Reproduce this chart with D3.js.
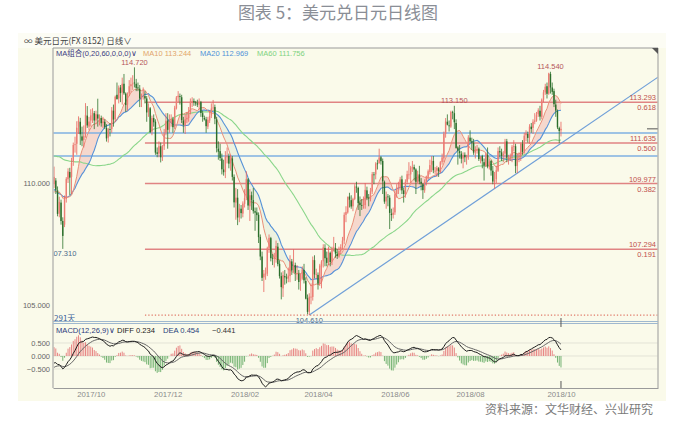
<!DOCTYPE html>
<html>
<head>
<meta charset="utf-8">
<script src="https://cdn.jsdelivr.net/npm/d3@7/dist/d3.min.js"></script>
<style>
html,body{margin:0;padding:0;background:#fff;}
svg{display:block;}
text{font-family:"Liberation Sans",Arial,sans-serif;}
.cjk{font-family:"Noto Sans CJK SC","Noto Sans",sans-serif;}
</style>
</head>
<body>
<svg id="chart" width="676" height="433"></svg>
<script>
// USD/JPY daily bars, 2017-09-01 .. 2018-10-12 (weekdays)
// closes of the preceding weeks, used only to seed the moving averages and MACD
const warmupClose = [
  111.39,110.40,110.40,109.52,109.79,109.97,110.32,110.02,109.98,109.59,110.90,110.88,111.52,111.43,111.36,111.28,111.29,111.86,112.35,112.33,112.22,112.39,
  113.47,113.27,113.21,113.25,113.89,114.04,113.91,113.25,113.27,112.55,112.63,112.03,111.97,111.93,111.11,111.11,111.90,111.33,111.26,110.68,110.27,
  110.39,110.72,109.99,110.69,110.70,110.32,110.05,109.20,109.18,109.67,110.63,110.01,109.59,109.19,108.96,109.52,108.96,109.51,109.35,109.21,110.07,110.28,109.99
];

const open = [
  109.95,110.10,109.70,108.75,109.20,108.45,108.30,109.35,110.15,110.45,110.25,110.85,111.55,111.60,112.30,112.50,111.90,111.75,111.95,112.75,112.30,
  112.55,112.75,112.85,112.55,112.80,112.60,112.65,112.45,112.50,112.25,111.85,112.20,112.20,112.95,112.60,113.60,113.45,113.90,113.70,114.05,113.65,113.20,
  113.65,113.95,114.05,114.10,114.05,113.90,113.85,113.45,113.55,113.55,113.45,112.90,113.05,112.10,112.65,112.50,111.25,111.20,111.50,111.05,111.50,112.05,
  112.55,112.20,112.45,112.60,112.30,113.05,113.50,113.55,113.50,112.55,112.35,112.60,112.65,112.90,113.30,113.35,113.30,113.25,113.20,113.30,112.85,
  112.65,112.60,112.30,112.55,112.75,113.05,113.10,112.60,111.40,111.30,111.00,110.55,110.45,111.05,111.10,110.80,111.00,110.25,109.20,109.40,108.60,108.95,108.75,
  109.15,109.40,110.15,109.05,109.50,109.30,108.85,108.80,108.70,107.80,107.00,106.15,106.30,106.30,107.35,107.75,106.95,106.90,106.95,107.40,
  106.70,106.20,105.70,106.20,106.15,106.10,106.20,106.80,106.45,106.65,106.30,106.30,106.00,106.10,106.45,106.00,105.30,104.75,105.35,105.35,106.85,106.25,
  106.25,105.90,106.60,106.80,107.35,106.95,106.75,107.15,106.80,107.35,107.35,107.10,107.00,107.20,107.40,107.65,108.70,108.80,109.45,109.30,109.05,
  109.35,109.85,109.80,109.20,109.10,109.10,109.10,109.70,109.40,109.35,109.65,110.35,110.35,110.80,110.80,111.05,110.90,110.05,109.25,109.45,109.40,108.75,108.70,
  108.80,109.55,109.80,109.80,110.15,109.70,109.55,110.05,110.35,110.35,110.60,110.65,110.55,110.05,110.35,110.05,109.95,109.70,110.00,110.25,110.45,
  110.75,110.90,110.50,110.50,110.60,110.45,110.85,111.00,112.00,112.50,112.35,112.30,112.90,112.85,112.45,111.45,111.30,111.20,111.00,111.15,111.05,111.05,
  111.85,111.70,111.65,111.25,111.35,111.40,110.95,111.10,110.85,110.70,111.15,110.65,110.90,110.50,110.05,110.15,110.50,111.30,111.25,111.10,111.20,111.70,111.00,
  111.05,111.10,111.50,111.50,110.70,111.05,111.10,111.60,111.30,111.95,112.00,111.85,112.30,112.25,112.50,112.55,112.80,112.95,112.70,113.40,
  113.70,113.95,113.65,114.45,113.90,113.75,113.20,112.95,112.25,112.15
];

const high = [
  110.67,110.20,109.86,109.44,109.32,108.60,109.49,110.24,110.60,110.62,111.03,111.65,111.89,112.52,112.72,112.66,112.30,112.35,113.26,113.14,112.70,
  113.01,113.05,112.94,112.95,113.44,112.80,112.75,112.70,112.60,112.40,112.25,112.45,113.10,113.20,113.57,114.10,113.98,114.00,114.30,114.45,113.70,113.70,
  114.20,114.30,114.40,114.72,114.25,114.10,114.00,113.65,113.90,113.75,113.55,113.25,113.10,112.75,112.80,112.60,111.45,111.70,111.65,111.55,112.20,112.85,
  112.85,112.80,112.80,112.70,113.15,113.55,113.75,113.65,113.60,112.70,112.80,112.90,113.10,113.45,113.50,113.45,113.35,113.40,113.45,113.35,112.95,
  112.75,112.70,112.70,112.95,113.25,113.39,113.20,112.70,111.70,111.60,111.20,110.95,111.30,111.45,111.20,111.15,111.10,110.35,109.80,109.75,109.15,109.10,109.25,
  109.75,110.48,110.20,109.75,109.65,109.80,109.00,109.00,108.80,107.90,107.20,106.45,106.55,107.40,107.90,107.80,107.10,107.15,107.65,107.55,
  106.85,106.35,106.40,106.45,106.30,106.55,107.05,106.90,107.30,106.75,106.65,106.45,106.30,106.60,106.70,106.15,105.45,105.50,105.90,107.00,107.05,106.50,
  106.35,106.70,106.85,107.50,107.50,107.20,107.40,107.20,107.40,107.80,107.55,107.30,107.40,107.50,107.80,108.80,109.05,109.45,109.60,109.50,109.40,
  109.95,110.05,109.85,109.45,109.35,109.45,110.00,109.85,109.55,109.80,110.45,110.45,110.85,110.95,111.40,111.10,111.00,110.10,109.65,109.55,109.50,108.95,109.00,
  109.70,109.95,110.05,110.25,110.30,109.80,110.15,110.50,110.85,110.70,110.90,110.75,110.60,110.50,110.70,110.20,110.00,110.15,110.30,110.55,110.95,
  111.10,111.10,110.65,110.70,110.65,110.90,111.20,112.10,112.65,112.80,112.55,112.95,112.95,113.15,112.60,111.50,111.55,111.30,111.25,111.25,111.15,111.95,
  112.15,111.85,111.80,111.50,111.55,111.45,111.10,111.15,111.00,111.25,111.45,111.00,110.95,110.70,110.45,110.70,111.45,111.50,111.40,111.30,111.80,111.80,111.15,
  111.20,111.55,111.75,111.60,111.20,111.25,111.65,111.75,112.05,112.15,112.10,112.40,112.45,112.60,112.85,112.90,113.05,113.15,113.45,113.80,
  114.05,114.10,114.50,114.54,114.10,113.85,113.40,113.00,112.30,112.50
];

const low = [
  109.80,109.55,108.64,108.60,108.30,107.31,108.20,109.20,110.00,109.50,109.55,110.70,111.24,111.15,112.00,111.55,111.50,111.45,111.85,112.25,112.15,
  112.30,112.45,112.20,112.40,112.30,112.35,112.30,112.25,112.20,111.69,111.65,111.90,112.05,112.30,112.50,113.40,113.25,113.30,113.20,113.60,112.90,112.95,
  113.55,113.70,113.80,113.90,113.75,113.75,113.10,113.10,113.40,113.25,112.50,112.70,112.05,111.95,112.30,111.15,111.05,111.05,110.84,110.90,111.35,111.95,
  111.40,112.05,112.30,112.05,112.20,113.00,113.30,113.20,112.45,112.05,112.00,112.45,112.50,112.80,113.10,113.15,113.15,113.10,113.00,112.70,112.50,
  112.55,112.05,112.20,112.45,112.65,112.95,112.40,111.25,110.95,110.90,110.35,110.30,110.20,110.80,110.60,110.50,110.10,109.00,108.50,108.28,108.40,108.55,108.60,
  109.00,109.30,108.90,108.45,108.90,108.75,108.05,108.45,107.55,106.85,106.00,105.55,106.05,106.20,107.15,106.80,106.65,106.55,106.75,106.60,
  106.10,105.25,105.35,105.85,105.90,105.95,105.95,106.25,106.35,106.00,106.05,105.65,105.60,106.05,105.90,105.25,104.64,104.61,105.05,105.20,106.10,106.10,
  105.65,105.80,105.70,106.55,106.60,106.60,106.65,106.60,106.65,107.20,106.95,106.90,106.95,107.10,107.30,107.50,108.40,108.75,109.00,108.95,108.85,
  109.30,109.60,108.90,108.65,108.90,108.95,108.95,109.30,109.05,109.25,109.55,109.95,110.15,110.55,110.80,110.75,109.55,109.15,108.95,109.05,108.12,108.45,108.55,
  108.70,109.40,109.55,109.70,109.55,109.20,109.40,109.95,110.15,110.00,110.45,110.10,109.55,110.00,109.95,109.70,109.35,109.60,109.90,110.15,110.35,
  110.45,110.40,110.35,110.25,110.25,110.40,110.75,110.85,111.85,112.35,112.10,112.25,112.60,112.20,111.40,110.75,111.00,110.80,110.60,110.85,110.75,110.95,
  111.65,111.35,111.15,111.00,111.20,110.90,110.80,110.60,110.10,110.65,110.60,110.55,110.30,109.95,109.77,110.00,110.45,111.05,110.90,110.85,111.00,110.85,110.75,
  110.90,110.85,111.30,110.40,110.40,110.85,110.90,111.15,111.20,111.70,111.65,111.60,112.05,112.00,112.40,112.50,112.70,112.55,112.60,113.30,
  113.60,113.45,113.60,113.65,113.60,113.10,112.70,112.20,111.63,111.90
];

const close = [
  110.25,109.72,108.74,109.23,108.45,107.84,109.35,110.17,110.47,110.22,110.82,111.55,111.58,112.26,112.54,111.99,111.73,111.93,112.78,112.35,112.51,
  112.76,112.86,112.55,112.81,112.63,112.67,112.44,112.51,112.29,111.82,112.20,112.19,112.96,112.59,113.52,113.43,113.89,113.67,114.05,113.66,113.18,113.64,
  113.95,114.03,114.06,114.08,113.88,113.87,113.45,113.53,113.56,113.45,112.88,113.08,112.07,112.65,112.48,111.24,111.19,111.50,111.05,111.49,112.02,112.54,
  112.17,112.47,112.62,112.28,113.07,113.49,113.56,113.52,112.57,112.37,112.60,112.66,112.88,113.32,113.35,113.29,113.25,113.20,113.31,112.86,112.69,
  112.60,112.32,112.58,112.74,113.04,113.08,112.62,111.42,111.28,111.02,110.56,110.44,111.06,111.09,110.79,111.00,110.25,109.21,109.40,108.59,108.96,108.77,109.16,
  109.38,110.16,109.08,109.50,109.31,108.85,108.79,108.69,107.79,107.00,106.13,106.30,106.30,107.33,107.76,106.93,106.91,106.93,107.43,106.69,
  106.20,105.75,106.24,106.15,106.10,106.22,106.80,106.43,106.65,106.33,106.31,105.96,106.11,106.47,106.03,105.28,104.74,105.36,105.36,106.86,106.27,106.28,
  105.89,106.63,106.79,107.37,106.93,106.74,107.18,106.77,107.33,107.37,107.12,107.02,107.23,107.38,107.65,108.70,108.82,109.43,109.32,109.04,109.35,
  109.86,109.84,109.18,109.10,109.09,109.12,109.72,109.39,109.37,109.66,110.36,110.33,110.79,110.77,111.04,110.89,110.07,109.24,109.44,109.42,108.78,108.69,108.79,
  109.54,109.81,109.81,110.15,109.70,109.55,110.05,110.36,110.35,110.63,110.65,110.55,110.05,110.35,110.06,109.97,109.71,110.02,110.27,110.48,110.73,
  110.90,110.52,110.50,110.62,110.48,110.85,111.04,112.01,112.51,112.38,112.33,112.89,112.87,112.48,111.43,111.32,111.22,110.99,111.13,111.05,111.05,111.86,
  111.70,111.65,111.24,111.38,111.39,110.98,111.08,110.89,110.71,111.17,110.67,110.88,110.51,110.06,110.13,110.52,111.30,111.25,111.10,111.19,111.69,111.03,111.07,
  111.09,111.48,111.51,110.69,111.02,111.11,111.62,111.27,111.93,112.05,111.84,112.30,112.20,112.50,112.55,112.77,112.97,112.71,113.40,113.70,
  113.93,113.64,114.47,113.90,113.72,113.22,112.96,112.27,112.12,112.21
];

// Fibonacci retracement drawn from the 104.61 low
const fibBase = 104.61;
const fibLevels = [113.293, 111.635, 109.977, 107.294];
const fibRatios = ["0.618", "0.500", "0.382", "0.191"];
const fibStart = "2017-11-14";
// horizontal support / resistance lines
const supportLevels = [112.04, 111.10];
// rising trend line through two swing lows
const trendPoints = ["2018-03-26", "2018-08-21"];
// swing highs and lows that carry a price tag
const swingHighs = ["2017-11-06", "2018-07-19", "2018-10-04"];
const swingLows = ["2017-09-08", "2018-03-26"];
// axis ticks
const priceTicks = [110, 105];
const macdTicks = [0.5, 0, -0.5];
const axisDates = ["2017-10-02", "2017-12-01", "2018-02-01", "2018-04-02", "2018-06-01", "2018-08-01", "2018-10-12"];

// ---------- derived series ----------
const N = close.length;
const dates = d3.timeDay.range(new Date(2017, 8, 1), new Date(2018, 9, 13)).filter(d => d.getDay() % 6 !== 0);
const iso = d3.timeFormat("%Y-%m-%d");
const idxOf = s => dates.findIndex(d => iso(d) === s);

const allClose = warmupClose.concat(close);
const W = warmupClose.length;
function sma(arr, n) {
  return arr.map((v, i) => {
    if (i < n - 1) return null;
    let s = 0;
    for (let j = i - n + 1; j <= i; j++) s += arr[j];
    return s / n;
  });
}
function ema(arr, n) {
  const k = 2 / (n + 1);
  let e = arr[0];
  return arr.map((v, i) => (i === 0 ? e : (e = v * k + e * (1 - k))));
}
const ma10 = sma(allClose, 10).slice(W);
const ma20 = sma(allClose, 20).slice(W);
const ma60 = sma(allClose, 60).slice(W);
const e12 = ema(allClose, 12), e26 = ema(allClose, 26);
const diffAll = e12.map((v, i) => v - e26[i]);
const deaAll = ema(diffAll, 9);
const diff = diffAll.slice(W), dea = deaAll.slice(W);
const hist = diff.map((v, i) => 2 * (v - dea[i]));

// ---------- layout ----------
const svg = d3.select("#chart");
const L = 53, R = 658, PT = 48, PB = 322, MT = 324, MB = 388;
const x = d3.scaleLinear().domain([-0.6, 345.5]).range([L, R]);
const y = d3.scaleLinear().domain([105, 110]).range([305.5, 183]);
const ym = d3.scaleLinear().domain([-0.5, 0.5]).range([369, 343]);
const f3 = d3.format(".3f");

// page frame
svg.append("rect").attr("x", 18).attr("y", 33).attr("width", 648).attr("height", 368).attr("fill", "#fafaea");
svg.append("rect").attr("x", 18).attr("y", 33).attr("width", 648).attr("height", 15).attr("fill", "#fcfcf4");

svg.append("text").attr("class", "cjk").attr("x", 338).attr("y", 19).attr("text-anchor", "middle")
  .attr("font-size", 17).attr("fill", "#8a8e96").text("图表 5：美元兑日元日线图");
svg.append("text").attr("class", "cjk").attr("x", 653).attr("y", 414).attr("text-anchor", "end")
  .attr("font-size", 12).attr("fill", "#7a7a7a").text("资料来源：文华财经、兴业研究");

// toolbar
svg.append("text").attr("class", "cjk").attr("x", 24).attr("y", 44).attr("font-size", 8.5).attr("fill", "#444")
  .text("∞ 美元日元(FX 8152)   日线∨");

const defs = svg.append("defs");
defs.append("clipPath").attr("id", "cp").append("rect").attr("x", L + 0.5).attr("y", PT).attr("width", R - L - 1).attr("height", PB - PT + 1);
defs.append("clipPath").attr("id", "cm").append("rect").attr("x", L + 0.5).attr("y", MT).attr("width", R - L - 1).attr("height", MB - MT);

const gp = svg.append("g").attr("clip-path", "url(#cp)");
const gm = svg.append("g").attr("clip-path", "url(#cm)");

// MA10/MA20 band fill
let segs = [], cur = null;
ma10.forEach((a, i) => {
  const up = a >= ma20[i];
  if (!cur || cur.up !== up) { cur = { up, idx: cur ? [i - 1] : [] }; segs.push(cur); }
  cur.idx.push(i);
});
const band = d3.area().x(i => x(i)).y0(i => y(ma20[i])).y1(i => y(ma10[i]));
gp.selectAll(".band").data(segs).join("path")
  .attr("d", s => band(s.idx))
  .attr("fill", s => s.up ? "rgba(240,140,140,0.30)" : "rgba(170,200,170,0.15)");

// horizontal support lines
gp.selectAll(".sup").data(supportLevels).join("line")
  .attr("x1", L).attr("x2", R).attr("y1", d => y(d)).attr("y2", d => y(d))
  .attr("stroke", "#7fb1e2").attr("stroke-width", 1.5);

// fibonacci lines
const fx0 = x(idxOf(fibStart));
gp.selectAll(".fib").data(fibLevels).join("line")
  .attr("x1", fx0).attr("x2", R).attr("y1", d => y(d)).attr("y2", d => y(d))
  .attr("stroke", "#e08383").attr("stroke-width", 1.5);
gp.append("line").attr("x1", fx0).attr("x2", R).attr("y1", y(fibBase)).attr("y2", y(fibBase))
  .attr("stroke", "#e07a6a").attr("stroke-width", 1.3).attr("stroke-dasharray", "1.3,2");

// trend line, extended to the right edge
const t0 = idxOf(trendPoints[0]), t1 = idxOf(trendPoints[1]);
const slope = (low[t1] - low[t0]) / (t1 - t0);
const tEnd = x.domain()[1];
gp.append("line").attr("x1", x(t0)).attr("y1", y(low[t0]))
  .attr("x2", x(tEnd)).attr("y2", y(low[t0] + slope * (tEnd - t0)))
  .attr("stroke", "#6f9fd8").attr("stroke-width", 1.2);

// moving averages
const maLine = arr => d3.line().x((d, i) => x(i)).y(d => y(d))(arr);
gp.append("path").attr("d", maLine(ma60)).attr("fill", "none").attr("stroke", "#8ad68a").attr("stroke-width", 1.1);
gp.append("path").attr("d", maLine(ma20)).attr("fill", "none").attr("stroke", "#5592d8").attr("stroke-width", 1.1);
gp.append("path").attr("d", maLine(ma10)).attr("fill", "none").attr("stroke", "#e9907a").attr("stroke-width", 1);

// candles
const bars = d3.range(N);
const isUp = i => close[i] >= open[i];
gp.selectAll(".wick").data(bars).join("line")
  .attr("x1", i => x(i)).attr("x2", i => x(i))
  .attr("y1", i => y(high[i])).attr("y2", i => y(low[i]))
  .attr("stroke", i => isUp(i) ? "#e8625c" : "#2e742e").attr("stroke-width", 0.8);
gp.selectAll(".body").data(bars).join("rect")
  .attr("x", i => x(i) - 0.7).attr("width", 1.4)
  .attr("y", i => y(Math.max(open[i], close[i])))
  .attr("height", i => Math.max(0.8, Math.abs(y(open[i]) - y(close[i]))))
  .attr("fill", i => isUp(i) ? "#ec7d74" : "#2b6e2b");

// price tags on swing points
const tagColorHigh = "#b5555a", tagColorLow = "#4b6a8a";
swingHighs.forEach(s => {
  const i = idxOf(s);
  gp.append("text").attr("x", x(i)).attr("y", y(high[i]) - 2.5).attr("text-anchor", "middle")
    .attr("font-size", 7.5).attr("fill", tagColorHigh).text(f3(high[i]));
});
swingLows.forEach(s => {
  const i = idxOf(s);
  gp.append("text").attr("x", x(i)).attr("y", y(low[i]) + 7.5).attr("text-anchor", "middle")
    .attr("font-size", 7.5).attr("fill", tagColorLow).text(f3(low[i]));
});

// fibonacci tags
fibLevels.forEach((v, k) => {
  svg.append("text").attr("x", 656).attr("y", y(v) - 2).attr("text-anchor", "end")
    .attr("font-size", 7.5).attr("fill", "#c0504d").text(f3(v));
  svg.append("text").attr("x", 656).attr("y", y(v) + 8).attr("text-anchor", "end")
    .attr("font-size", 7.5).attr("fill", "#c0504d").text(fibRatios[k]);
});

// last price marker
svg.append("line").attr("x1", 647).attr("x2", R).attr("y1", y(close[N - 1])).attr("y2", y(close[N - 1]))
  .attr("stroke", "#555").attr("stroke-width", 1);

// bar count
svg.append("text").attr("class", "cjk").attr("x", 54).attr("y", 321).attr("font-size", 8)
  .attr("fill", "#3a5f9a").text(N + "天");

// price axis
const ya = svg.append("g").attr("transform", `translate(${L - 1},0)`)
  .call(d3.axisLeft(y).tickValues(priceTicks).tickFormat(f3).tickSize(0).tickPadding(2));
ya.select(".domain").remove();
ya.selectAll("text").attr("font-size", 7.5).attr("fill", "#666").attr("font-family", "Liberation Sans");

// MA legend
const leg = svg.append("text").attr("y", 55.5).attr("font-size", 7.5);
leg.append("tspan").attr("x", 56).attr("fill", "#3b3b80").text("MA");
leg.append("tspan").attr("fill", "#3b3b80").attr("class", "cjk").text("组合");
leg.append("tspan").attr("fill", "#3b3b80").text("(0,20,60,0,0,0)∨");
leg.append("tspan").attr("x", 143).attr("fill", "#e2a56b").text("MA10 " + f3(ma10[N - 1]));
leg.append("tspan").attr("x", 200).attr("fill", "#4f92d8").text("MA20 " + f3(ma20[N - 1]));
leg.append("tspan").attr("x", 257).attr("fill", "#7fd27f").text("MA60 " + f3(ma60[N - 1]));

// ---------- MACD panel ----------
gm.selectAll(".grid").data(macdTicks).join("line")
  .attr("x1", L).attr("x2", R).attr("y1", d => ym(d)).attr("y2", d => ym(d))
  .attr("stroke", "#e3e3d6").attr("stroke-width", 1);
gm.selectAll(".hist").data(bars).join("line")
  .attr("x1", i => x(i)).attr("x2", i => x(i))
  .attr("y1", ym(0)).attr("y2", i => ym(hist[i]))
  .attr("stroke", i => hist[i] >= 0 ? "#e57b7b" : "#65ab65").attr("stroke-width", 0.9);
const mLine = arr => d3.line().x((d, i) => x(i)).y(d => ym(d))(arr);
gm.append("path").attr("d", mLine(dea)).attr("fill", "none").attr("stroke", "#666").attr("stroke-width", 1);
gm.append("path").attr("d", mLine(diff)).attr("fill", "none").attr("stroke", "#1e1e1e").attr("stroke-width", 1);

const ma = svg.append("g").attr("transform", `translate(${L - 1},0)`)
  .call(d3.axisLeft(ym).tickValues(macdTicks).tickFormat(f3).tickSize(0).tickPadding(2));
ma.select(".domain").remove();
ma.selectAll("text").attr("font-size", 7.5).attr("fill", "#666").attr("font-family", "Liberation Sans");

const mleg = svg.append("text").attr("y", 333).attr("font-size", 7.6);
mleg.append("tspan").attr("x", 56).attr("fill", "#2c3a7c").text("MACD(12,26,9)∨");
mleg.append("tspan").attr("x", 117).attr("fill", "#222").text("DIFF " + f3(diff[N - 1]));
mleg.append("tspan").attr("x", 163).attr("fill", "#1f3f7a").text("DEA " + f3(dea[N - 1]));
mleg.append("tspan").attr("x", 212).attr("fill", "#333").text(f3(hist[N - 1]));

// ---------- frame ----------
const xa = svg.append("g").attr("transform", `translate(0,${MB})`)
  .call(d3.axisBottom(x).tickValues(axisDates.map(idxOf)).tickFormat(i => d3.timeFormat("%Y/%m")(dates[i])).tickSize(0).tickPadding(3));
xa.select(".domain").attr("stroke", "#9a9a9a");
xa.selectAll("text").attr("font-size", 7.8).attr("fill", "#8a8a8a").attr("font-family", "Liberation Sans");

svg.append("line").attr("x1", L).attr("x2", R).attr("y1", PT).attr("y2", PT).attr("stroke", "#9a9a9a");
svg.append("line").attr("x1", L).attr("x2", L).attr("y1", PT).attr("y2", MB).attr("stroke", "#9a9a9a");
svg.append("line").attr("x1", R).attr("x2", R).attr("y1", PT).attr("y2", MB).attr("stroke", "#9a9a9a");
svg.append("line").attr("x1", L).attr("x2", R).attr("y1", PB - 0.5).attr("y2", PB - 0.5).attr("stroke", "#9fb8cf");
svg.append("line").attr("x1", L).attr("x2", R).attr("y1", PB + 1.5).attr("y2", PB + 1.5).attr("stroke", "#9fb8cf");
svg.append("path").attr("d", `M${R - 6},${PT} L${R},${PT} L${R},${PT + 6} Z`).attr("fill", "#555");

// cursor marks on the last bar
const xl = x(N - 1);
svg.append("line").attr("x1", xl).attr("x2", xl).attr("y1", PB - 4).attr("y2", MT + 3).attr("stroke", "#555");
svg.append("line").attr("x1", xl).attr("x2", xl).attr("y1", MB - 7).attr("y2", MB).attr("stroke", "#555");
</script>
</body>
</html>
